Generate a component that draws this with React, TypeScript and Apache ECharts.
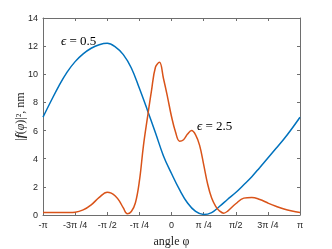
import React, { useEffect, useRef } from "react";
import * as echarts from "echarts";

// x values are in units of π
const blueX = [-1, -0.9375, -0.875, -0.8125, -0.75, -0.6875, -0.625, -0.5625, -0.5, -0.4375, -0.375, -0.3125, -0.25, -0.1875, -0.125, -0.0625, 0, 0.0625, 0.125, 0.1875, 0.25, 0.3125, 0.375, 0.4375, 0.5, 0.5625, 0.625, 0.6875, 0.75, 0.8125, 0.875, 0.9375, 1];
const blueY = [6.95, 8.1, 9.2, 10.15, 10.9, 11.45, 11.85, 12.1, 12.2, 11.95, 11.4, 10.45, 9.0, 7.45, 5.85, 4.2, 2.95, 1.8, 0.85, 0.25, 0.03, 0.17, 0.62, 1.12, 1.6, 2.15, 2.72, 3.38, 4.05, 4.72, 5.4, 6.15, 6.95];

const redX = [-1, -0.9375, -0.875, -0.8125, -0.75, -0.6875, -0.625, -0.5625, -0.5, -0.46875, -0.4375, -0.40625, -0.375, -0.34375, -0.3125, -0.28125, -0.25, -0.21875, -0.1875, -0.15625, -0.125, -0.09375, -0.0625, -0.03125, 0, 0.03125, 0.0625, 0.09375, 0.125, 0.15625, 0.1875, 0.21875, 0.25, 0.28125, 0.3125, 0.34375, 0.375, 0.40625, 0.4375, 0.5, 0.5625, 0.625, 0.6875, 0.75, 0.8125, 0.875, 0.9375, 1];
const redY = [0.17, 0.17, 0.17, 0.18, 0.2, 0.36, 0.72, 1.25, 1.62, 1.55, 1.35, 1.0, 0.5, 0.08, 0.25, 0.85, 2.4, 4.9, 6.9, 8.8, 10.5, 10.85, 9.7, 8.4, 7.0, 5.9, 5.25, 5.35, 5.75, 6.0, 5.7, 4.95, 3.6, 2.2, 1.2, 0.62, 0.28, 0.13, 0.28, 0.8, 1.2, 1.25, 1.1, 0.85, 0.62, 0.42, 0.28, 0.18];

const xTickValues = [-1, -0.75, -0.5, -0.25, 0, 0.25, 0.5, 0.75, 1];
const xTickLabels = ["-π", "-3π /4", "-π /2", "-π /4", "0", "π /4", "π/2", "3π /4", "π"];

const yMin = 0;
const yMax = 14;
const yStep = 2;

const labelBlue = "{e|ϵ}{n| = 0.5}";
const labelRed = "{e|ϵ}{n| = 2.5}";

export default function App() {
  const ref = useRef<HTMLDivElement>(null);
  useEffect(() => {
    if (!ref.current) return;
    const chart = echarts.init(ref.current, null, { renderer: "svg" });
    const axisColor = "#6e6e6e";
    const tickFont = { fontFamily: "Liberation Sans", fontSize: 9, color: "#262626" };
    const serif = "Liberation Serif";
    const fmtX = (v: number) => {
      const i = xTickValues.findIndex((t) => Math.abs(t - v) < 1e-6);
      return i >= 0 ? xTickLabels[i] : "";
    };
    const annRich = {
      e: { fontFamily: serif, fontSize: 13, fontStyle: "italic", fill: "#000" },
      n: { fontFamily: serif, fontSize: 13, fill: "#000" },
    };
    chart.setOption({
      animation: false,
      grid: { left: 43, right: 32, top: 18, bottom: 34, containLabel: false, outerBoundsMode: "none" },
      xAxis: [
        {
          type: "value",
          min: -1,
          max: 1,
          interval: 0.25,
          position: "bottom",
          axisLine: { show: true, onZero: false, lineStyle: { color: axisColor, width: 1 } },
          axisTick: { show: true, inside: true, length: 3, lineStyle: { color: axisColor } },
          axisLabel: { ...tickFont, margin: 5, formatter: fmtX },
          splitLine: { show: false },
          name: "angle φ",
          nameLocation: "middle",
          nameGap: 20,
          nameMoveOverlap: false,
          nameTextStyle: { fontFamily: serif, fontSize: 12, color: "#262626" },
        },
        {
          type: "value",
          min: -1,
          max: 1,
          interval: 0.25,
          position: "top",
          axisLine: { show: true, onZero: false, lineStyle: { color: axisColor, width: 1 } },
          axisTick: { show: true, inside: true, length: 3, lineStyle: { color: axisColor } },
          axisLabel: { show: false },
          splitLine: { show: false },
        },
      ],
      yAxis: [
        {
          type: "value",
          min: yMin,
          max: yMax,
          interval: yStep,
          position: "left",
          axisLine: { show: true, onZero: false, lineStyle: { color: axisColor, width: 1 } },
          axisTick: { show: true, inside: true, length: 3, lineStyle: { color: axisColor } },
          axisLabel: { ...tickFont, margin: 5 },
          splitLine: { show: false },
          name: "{n||}{f|f}{n|(}{i|φ}{n|)|², nm}",
          nameLocation: "middle",
          nameGap: 17,
          nameRotate: 90,
          nameMoveOverlap: false,
          nameTextStyle: {
            fontFamily: serif,
            fontSize: 12,
            color: "#262626",
            rich: {
              n: { fontFamily: serif, fontSize: 12, color: "#262626" },
              f: { fontFamily: serif, fontSize: 12, color: "#262626", fontWeight: "bold", fontStyle: "italic" },
              i: { fontFamily: serif, fontSize: 12, color: "#262626", fontStyle: "italic" },
            },
          },
        },
        {
          type: "value",
          min: yMin,
          max: yMax,
          interval: yStep,
          position: "right",
          axisLine: { show: true, onZero: false, lineStyle: { color: axisColor, width: 1 } },
          axisTick: { show: true, inside: true, length: 3, lineStyle: { color: axisColor } },
          axisLabel: { show: false },
          splitLine: { show: false },
        },
      ],
      series: [
        {
          type: "line",
          data: blueX.map((x, i) => [x, blueY[i]]),
          showSymbol: false,
          smooth: 0.4,
          lineStyle: { color: "#0072BD", width: 1.5 },
          itemStyle: { color: "#0072BD" },
          clip: true,
        },
        {
          type: "line",
          data: redX.map((x, i) => [x, redY[i]]),
          showSymbol: false,
          smooth: 0.4,
          lineStyle: { color: "#D95319", width: 1.5 },
          itemStyle: { color: "#D95319" },
          clip: true,
        },
      ],
      graphic: [
        {
          type: "text",
          left: 61,
          top: 34,
          style: { text: labelBlue, fontFamily: serif, fontSize: 13, fill: "#000", rich: annRich },
        },
        {
          type: "text",
          left: 197,
          top: 119,
          style: { text: labelRed, fontFamily: serif, fontSize: 13, fill: "#000", rich: annRich },
        },
      ],
    });
    return () => chart.dispose();
  }, []);
  return <div ref={ref} style={{ position: "fixed", left: 0, top: 0, width: 332, height: 249 }} />;
}
